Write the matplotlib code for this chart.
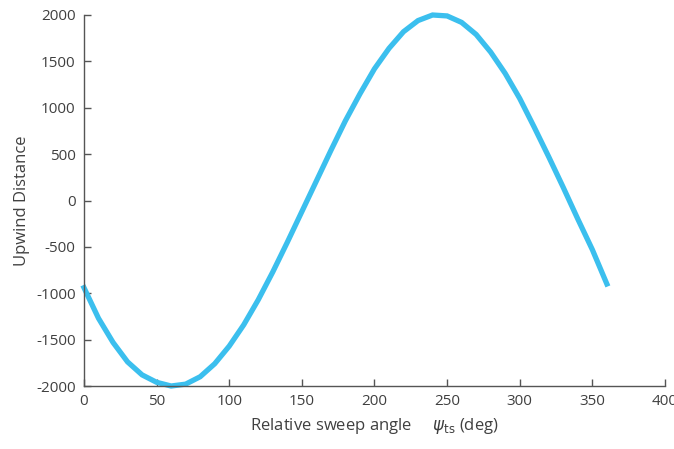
import matplotlib
matplotlib.use("Agg")
import matplotlib.pyplot as plt

angle_deg = [0, 10, 20, 30, 40, 50, 60, 70, 80, 90, 100, 110, 120, 130, 140, 150, 160, 170, 180,
             190, 200, 210, 220, 230, 240, 250, 260, 270, 280, 290, 300, 310, 320, 330, 340, 350, 360]
upwind = [-940, -1270, -1530, -1740, -1880, -1960, -2000, -1980, -1900, -1760, -1570, -1340, -1070,
          -770, -450, -120, 210, 540, 860, 1150, 1420, 1640, 1820, 1940, 2000, 1990, 1920, 1790,
          1600, 1370, 1100, 790, 470, 140, -200, -530, -900]
xticks = [0, 50, 100, 150, 200, 250, 300, 350, 400]
yticks = [-2000, -1500, -1000, -500, 0, 500, 1000, 1500, 2000]

plt.rcParams['font.family'] = ['Open Sans', 'DejaVu Sans']
plt.rcParams['axes.unicode_minus'] = False
txt = '#404040'
fig = plt.figure(figsize=(6.74, 4.49), dpi=100)
ax = fig.add_axes([0.1246, 0.1403, 0.862, 0.8263])
ax.plot(angle_deg, upwind, color='#3BBFEE', linewidth=3.8, solid_joinstyle='miter', clip_on=False)
ax.set_xlim(0, 400)
ax.set_ylim(-2000, 2000)
ax.set_xticks(xticks)
ax.set_yticks(yticks)
for s in ['top', 'right']:
    ax.spines[s].set_visible(False)
for s in ['left', 'bottom']:
    ax.spines[s].set_color('#555555')
    ax.spines[s].set_linewidth(1.0)
ax.tick_params(direction='in', length=5, width=1, color='#555555', labelcolor=txt, labelsize=11, pad=6)
ax.set_ylabel('Upwind Distance', color=txt, fontsize=12, labelpad=4)
ax.set_xlabel(r'Relative sweep angle     $\psi_{\mathrm{ts}}$ (deg)', color=txt, fontsize=12, labelpad=5)
fig.savefig('out.png', dpi=100)
